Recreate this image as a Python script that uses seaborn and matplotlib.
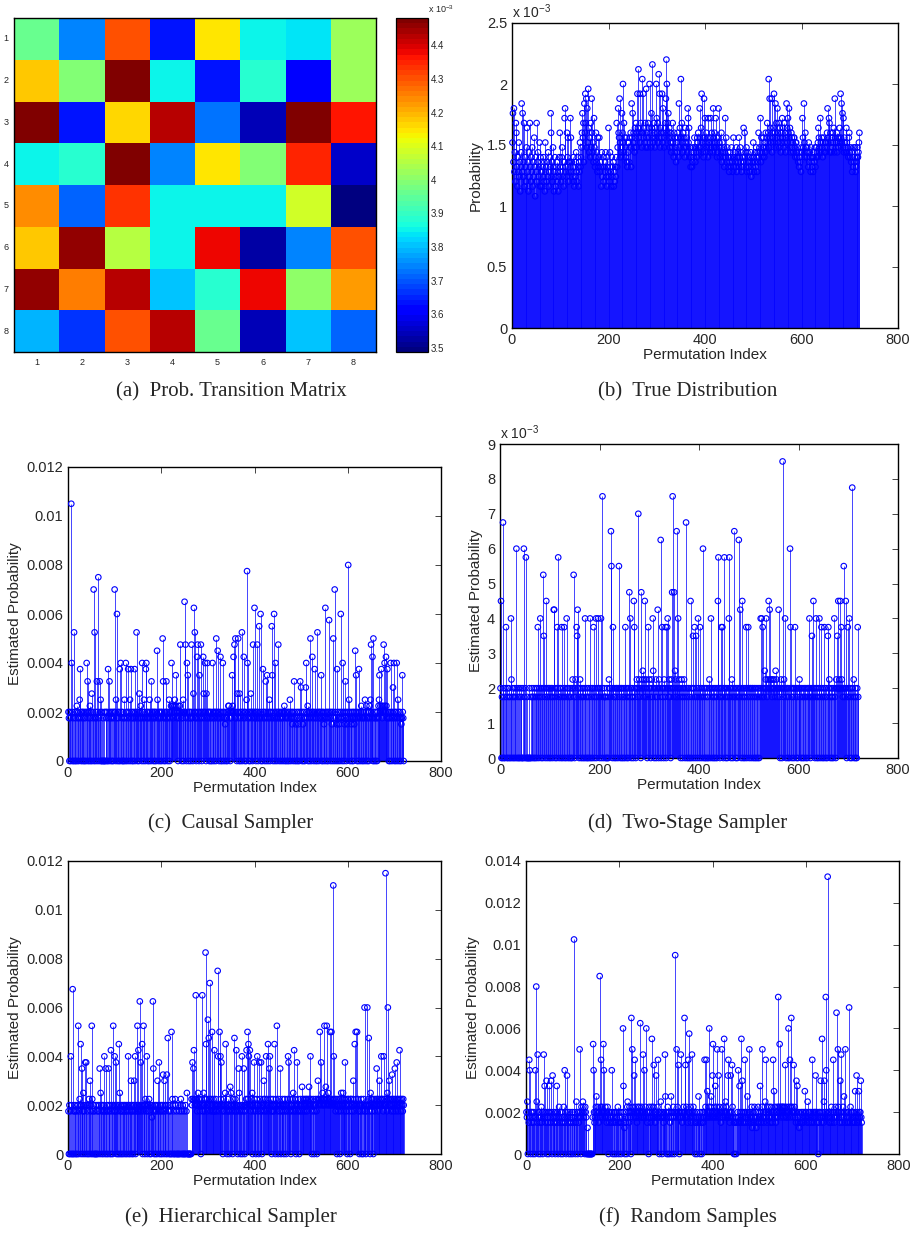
import numpy as np
import pandas as pd
import matplotlib
matplotlib.use("Agg")
import matplotlib.pyplot as plt
import seaborn as sns

# ---------------- data ----------------
# (a) transition matrix, values in units of 1e-3
matrix_labels = [1, 2, 3, 4, 5, 6, 7, 8]
matrix_rows_e3 = [
    [3.96, 3.75, 4.31, 3.64, 4.14, 3.85, 3.83, 4.02],
    [4.18, 4.00, 4.48, 3.86, 3.64, 3.89, 3.61, 4.02],
    [4.48, 3.63, 4.16, 4.43, 3.73, 3.54, 4.48, 4.37],
    [3.85, 3.89, 4.48, 3.75, 4.14, 4.00, 4.35, 3.56],
    [4.24, 3.71, 4.34, 3.85, 3.86, 3.86, 4.09, 3.50],
    [4.18, 4.45, 4.05, 3.85, 4.38, 3.53, 3.75, 4.31],
    [4.46, 4.26, 4.42, 3.80, 3.89, 4.38, 4.01, 4.22],
    [3.79, 3.66, 4.31, 4.42, 3.96, 3.54, 3.80, 3.71],
]
colorbar_ticks_e3 = [3.5, 3.6, 3.7, 3.8, 3.9, 4.0, 4.1, 4.2, 4.3, 4.4]

# Stem-plot values: one character per permutation index (720 each),
# character position in ALPHABET times the unit gives the value.
ALPHABET = "0123456789abcdefghijklmnopqrstuvwxyzABCDEFGHIJKLMNOPQRSTUVWXYZ"
TRUE_UNIT = 4e-5
SAMPLER_UNIT = 2.5e-4

true_lines = [
    ("CIyJwAuGEx" "tzwCvysxAK" "wIvyGtzxuB" "FwysAvGxuz" "wBtyvDxrzw" "GuyAvxCtzw"),
    ("twxvzuysCw" "xuyvAtwzxI" "EvyuBxswzv" "txyuwsvzEx" "wuzBvxtyHJ" "xwvEzDuywy"),
    ("HDwyvxzutx" "vyAwuzxtyw" "CxzBEIDGyK" "EMGLBJCNFA" "DzGBLEACyH" "BxzEyAwDxz"),
    ("DwyxtAvxzu" "xwyAvztxwF" "vuAxwtzvxy" "twuxvzGxBJ" "EDLCzABIEO" "CGADzBDyxC"),
    ("ACyDBExKDI" "CEBAFDGBEM" "FRDEMCGEBP" "EMDFCGBNDE" "BGDFOCEBIF" "SDCGEBFDOH"),
    ("EGCQDMBFED" "MCJEBDFGLT" "OEGIDFBECA" "DBGCzEADBy" "CAEDzKBFDP" "DGCAEBDzFC"),
    ("BDAJHCFzBx" "zAxyBzADBy" "ABzDCEABJD" "BFMCADzLDH" "CAEBDzHCBA" "DHBECAJDBE"),
    ("CHBDzADJBC" "zBAEyCAzBx" "AHzDyBxAzw" "yAzxBywzDx" "zAyxBwzAyD" "xzByAwxzyF"),
    ("yEzAxBwAyz" "xywzAvyzxC" "zwyAxBzwAy" "EzBAHyDAzB" "DBzCAEBDGC" "EPBLDFCLAE"),
    ("DFMCEKBGDJ" "ECGBFDAECH" "DFBGCEADKF" "CHEJDFBAED" "BCADDBzCCA" "zByAxzyAwB"),
    ("AHDBKCzEBA" "zBAxCyAzwB" "yxzwzAyBxz" "BAzCFDBAHC" "ADBzCDABCA" "CBEJDCHGAE"),
    ("CADBECFALD" "BCEADCBDFC" "MDKCIBHADC" "BAFCABzDEA" "zByAwzxByz" "BwxyzBzACE"),
]
causal_lines = [
    ("870870Gg80" "70l8070890" "7807af8078" "087080780g" "8d07809708" "b078s0l708"),
    ("7d08u70d8a" "0080700800" "87080f70d8" "708708078s" "80a7o08708" "f0g8708070"),
    ("a70g8078f0" "78a0f78070" "87f087l807" "80b78970g8" "70a870fg87" "0870a870d8"),
    ("7807808708" "ia70878078" "08kd708708" "d78078a087" "9g899789a8" "e987809789"),
    ("j87087a08q" "8j70g8e708" "7807j870bp" "8l7807hj87" "0e87j8078h" "b87g80b7g8"),
    ("780870870g" "8708780k87" "i87087h087" "0g87086708" "7089987087" "8e98h8j7k8"),
    ("70b8k70b80" "78l087h807" "80avg78078" "0b8780j87p" "87087j807m" "87o0870f87"),
    ("807d80e780" "7a8078me70" "8o70g87087" "j807870878" "0789087087" "08708a7087"),
    ("6807d80760" "8706807d8c" "708607807c" "g87908708k" "708h8708f7" "0870l87087"),
    ("87e0870867" "0p8708708n" "78078608k7" "0s8706f807" "6807o870g8" "7068d70867"),
    ("w8a7087608" "70867i8e70" "870f870897" "087087a089" "70870897aj" "87h0k70870"),
    ("870879ae89" "8f9789j8g9" "8h97f87087" "0g8708c7g0" "8708g70a87" "087067e870"),
]
two_stage_lines = [
    ("8i070r8070" "8f70807807" "0g90780708" "70o8070807" "0870080o70" "8n00700080"),
    ("0708707807" "08708f7087" "g80780le87" "08i7087808" "7087807hh8" "0780f8n708"),
    ("780f7087f0" "870g870870" "8708098l70" "897feh8708" "9708708708" "g078070870"),
    ("g807808f70" "87g078g870" "87g08u7087" "7070807098" "87qm80f870" "87088708m8"),
    ("7088078078" "0f8708708j" "7g807870if" "8708987s89" "780j89a879" "i879807f89"),
    ("870897ga80" "879087h809" "87p08f7809" "87f08fg879" "87089ju87j" "8a97q87g89"),
    ("8708970879" "807r807808" "70i8078e08" "f70e870g87" "0f87087o08" "7080780708"),
    ("980g870870" "8708708in8" "7087f8f708" "n87087087g" "n870897087" "q87087087p"),
    ("87h807i807" "8078f087f8" "0788078807" "8087087087" "087g8g7f87" "8a89g8798i"),
    ("8h98987988" "987a89878h" "8708980y87" "98g8078807" "80of870878" "08f7808708"),
    ("8978087087" "0878078087" "8g7087e87i" "8708g70870" "8g708f7087" "0f870870ef"),
    ("8970870870" "8g78098e8i" "898i8f9878" "m878i807f8" "7g80780v87" "90780708f7"),
]
hierarchical_lines = [
    ("70807g080r" "0708708070" "8l0798i08e" "70a870f8f0" "870890c870" "l907807008"),
    ("0078078e0a" "8708708g70" "e70870e870" "8h0780l87g" "87f08708i0" "a708708708"),
    ("78078078g0" "8708c70870" "8c7g0878l7" "h87p8f78i0" "8l780987g0" "8789087086"),
    ("8pe7087087" "0c87f08708" "708d70c870" "8d0j870807" "0k09807009" "8070080070"),
    ("8907080070" "0807a00000" "000098f9eh" "989q8978a9" "8978098q78" "a879xi897m"),
    ("8j9s8798k7" "897h879878" "ug87k8g9f8" "708978ai87" "0897807b8a" "870987j897"),
    ("h8708ea780" "87g087e807" "89h8k9ig8h" "8798a087f9" "87089g870f" "897f80789c"),
    ("8798g789i8" "7eg8970879" "87i8098l78" "0987e80789" "8708978087" "9gf8798078"),
    ("89a7h89708" "f879807898" "7b89789879" "897898b98g" "9807898078" "98709c989k"),
    ("89f89a898l" "98b9l89a89" "8k98k898Ig" "8987980897" "89087a898a" "879f897809"),
    ("8978099878" "9c87i8k98k" "8978087890" "87098o7808" "7o89j870a9" "8798098789"),
    ("8e98798c89" "8g9897g898" "K897ao89c8" "9879d89789" "e879f89789" "h897898798"),
]
random_lines = [
    ("87a086ig70" "868706870g" "7wa6j80786" "0796807j8d" "768e07680d" "876e80f768"),
    ("76087d6807" "9687068706" "97g6807f68" "7068706780" "76F8706a87" "0867k87098"),
    ("8a97809870" "0500000000" "007lg86789" "b879868y79" "i8978lg879" "8768970867"),
    ("876g807680" "7860789608" "7680678od6" "5076809a78" "69870q8k97" "8fi7987689"),
    ("8798p87987" "j87g897o86" "780978679m" "879h8768f8" "79i87087a8" "7087687jb8"),
    ("7089078067" "b80789708C" "87k897h807" "8j7868798q" "8h79876i8n" "87968j7897"),
    ("860768076b" "7608760876" "87i897i8c7" "89o789b87f" "l8798d789k" "87f897868k"),
    ("8798m78a97" "87fi8768f7" "8h97606076" "0768g76d86" "7m8e6786i7" "8678b768k7"),
    ("8679568769" "7685768967" "8d7689k786" "78ai876987" "897689786i" "8c79867897"),
    ("u98l987989" "89789h8798" "78o98i79q8" "987h89786e" "8d76856768" "7687687c87"),
    ("876a876876" "876i876878" "f876870687" "8e76m876ae" "78ug87R876" "87689768i7"),
    ("86798r78k9" "876e8j7689" "7b86k87687" "68s7698768" "76876c87f6" "876c878e76"),
]

xticks = [0, 200, 400, 600, 800]
true_yticks = [0, 0.5e-3, 1e-3, 1.5e-3, 2e-3, 2.5e-3]
true_yticklabels = ["0", "0.5", "1", "1.5", "2", "2.5"]
c_yticks = [0, 0.002, 0.004, 0.006, 0.008, 0.010, 0.012]
c_yticklabels = ["0", "0.002", "0.004", "0.006", "0.008", "0.01", "0.012"]
d_yticks = [i * 1e-3 for i in range(10)]
d_yticklabels = [str(i) for i in range(10)]
f_yticks = [0, 0.002, 0.004, 0.006, 0.008, 0.010, 0.012, 0.014]
f_yticklabels = ["0", "0.002", "0.004", "0.006", "0.008", "0.01", "0.012", "0.014"]

captions = ["(a)  Prob. Transition Matrix", "(b)  True Distribution",
            "(c)  Causal Sampler", "(d)  Two-Stage Sampler",
            "(e)  Hierarchical Sampler", "(f)  Random Samples"]


def decode(lines, unit):
    for ln in lines:
        if len(ln) != 60:
            raise ValueError("bad line length %d: %s" % (len(ln), ln))
    code = "".join(lines)
    return np.array([ALPHABET.index(c) for c in code], dtype=float) * unit


# ---------------- style ----------------
sns.set_theme(style="white")
plt.rcParams["font.family"] = ["Liberation Sans", "DejaVu Sans"]
plt.rcParams["mathtext.fontset"] = "custom"
plt.rcParams["mathtext.rm"] = "Liberation Sans"
plt.rcParams["axes.edgecolor"] = "black"
plt.rcParams["axes.linewidth"] = 0.9

W, H = 913, 1233
fig = plt.figure(figsize=(W / 100, H / 100), dpi=100)
fig.patch.set_facecolor("white")


def add_axes_px(x0, y0, x1, y1):
    return fig.add_axes([x0 / W, 1 - y1 / H, (x1 - x0) / W, (y1 - y0) / H])


def caption(text, cx, cy):
    fig.text(cx / W, 1 - cy / H, text, ha="center", va="center",
             fontsize=15, family=["Liberation Serif", "DejaVu Serif"])


BLUE = "#0000ff"


def stem_panel(ax, vals, yticks, yticklabels, ylabel, ymax, exp_label=False):
    idx = np.arange(1, len(vals) + 1)
    df = pd.DataFrame({"index": idx, "value": vals})
    ax.vlines(df["index"], 0, df["value"], color=BLUE, lw=0.6, alpha=0.85, zorder=2)
    sns.scatterplot(data=df, x="index", y="value", ax=ax, marker="o", s=16,
                    facecolor="none", edgecolor=BLUE, linewidth=0.8,
                    clip_on=False, zorder=3, legend=False)
    ax.set_xlim(0, 800)
    ax.set_ylim(0, ymax)
    ax.set_xticks(xticks)
    ax.set_xticklabels([str(t) for t in xticks])
    ax.set_yticks(yticks)
    ax.set_yticklabels(yticklabels)
    ax.set_xlabel("Permutation Index", fontsize=11, labelpad=0.5)
    ax.set_ylabel(ylabel, fontsize=11, labelpad=3)
    ax.tick_params(direction="in", top=True, right=True, length=4, width=0.6,
                   labelsize=10.5, pad=3.5)
    for sp in ax.spines.values():
        sp.set_visible(True)
        sp.set_color("black")
        sp.set_linewidth(1.0)
    if exp_label:
        ax.text(0.0, 1.005, r"x 10$^{-3}$", transform=ax.transAxes,
                ha="left", va="bottom", fontsize=10)


# (a) heatmap
matrix = np.array(matrix_rows_e3) * 1e-3
ax_a = add_axes_px(14, 18, 376, 352)
cax = add_axes_px(396, 18, 428, 352)
jet64 = plt.get_cmap("jet", 64)
sns.heatmap(pd.DataFrame(matrix, index=matrix_labels, columns=matrix_labels),
            ax=ax_a, cbar_ax=cax, cmap=jet64, vmin=3.488e-3, vmax=4.481e-3,
            xticklabels=matrix_labels, yticklabels=matrix_labels)
ax_a.tick_params(direction="in", length=3, width=0.6, labelsize=6.5, pad=4,
                 top=True, right=True, bottom=True, left=True)
ax_a.set_yticklabels([str(v) for v in matrix_labels], rotation=0)
ax_a.set_xticklabels([str(v) for v in matrix_labels], rotation=0)
for sp in ax_a.spines.values():
    sp.set_visible(True)
    sp.set_color("black")
    sp.set_linewidth(1.0)
cb = ax_a.collections[0].colorbar
cb.set_ticks([t * 1e-3 for t in colorbar_ticks_e3])
cb.set_ticklabels(["%g" % t for t in colorbar_ticks_e3])
cax.tick_params(direction="in", length=3, width=0.6, labelsize=7, left=True,
                right=True, pad=2)
cb.outline.set_edgecolor("black")
cb.outline.set_linewidth(0.9)
cax.text(1.0, 1.01, r"x 10$^{-3}$", transform=cax.transAxes, ha="left",
         va="bottom", fontsize=6.5)

# (b) true distribution
ax_b = add_axes_px(512, 23, 898, 328)
stem_panel(ax_b, decode(true_lines, TRUE_UNIT), true_yticks, true_yticklabels,
           "Probability", 2.5e-3, exp_label=True)

# (c) causal sampler
ax_c = add_axes_px(68, 467, 441, 761)
stem_panel(ax_c, decode(causal_lines, SAMPLER_UNIT), c_yticks, c_yticklabels,
           "Estimated Probability", 0.012)

# (d) two-stage sampler
ax_d = add_axes_px(500, 444, 898, 758)
stem_panel(ax_d, decode(two_stage_lines, SAMPLER_UNIT), d_yticks, d_yticklabels,
           "Estimated Probability", 9e-3, exp_label=True)

# (e) hierarchical sampler
ax_e = add_axes_px(68, 861, 441, 1154)
stem_panel(ax_e, decode(hierarchical_lines, SAMPLER_UNIT), c_yticks, c_yticklabels,
           "Estimated Probability", 0.012)

# (f) random samples
ax_f = add_axes_px(526, 861, 899, 1154)
stem_panel(ax_f, decode(random_lines, SAMPLER_UNIT), f_yticks, f_yticklabels,
           "Estimated Probability", 0.014)

caption(captions[0], 231, 392)
caption(captions[1], 688, 392)
caption(captions[2], 231, 823)
caption(captions[3], 688, 823)
caption(captions[4], 231, 1217)
caption(captions[5], 688, 1217)

fig.savefig("out.png", dpi=100, facecolor="white")
